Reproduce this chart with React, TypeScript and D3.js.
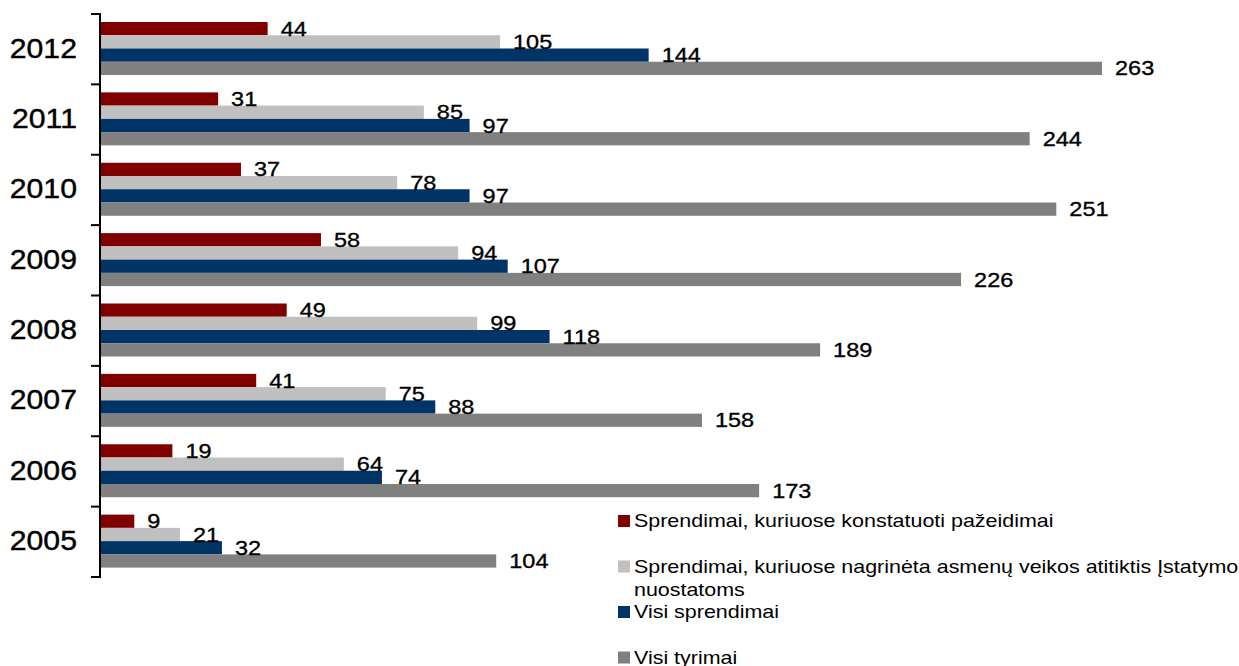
import React from "react";
import * as d3 from "d3";

const years = ["2012", "2011", "2010", "2009", "2008", "2007", "2006", "2005"];
const seriesNames = [
  "Sprendimai, kuriuose konstatuoti pažeidimai",
  "Sprendimai, kuriuose nagrinėta asmenų veikos atitiktis Įstatymo\nnuostatoms",
  "Visi sprendimai",
  "Visi tyrimai",
];
const seriesColors = ["#800000", "#C0C0C0", "#003366", "#808080"];
const violations = [44, 31, 37, 58, 49, 41, 19, 9];
const compliance = [105, 85, 78, 94, 99, 75, 64, 21];
const allDecisions = [144, 97, 97, 107, 118, 88, 74, 32];
const allInvestigations = [263, 244, 251, 226, 189, 158, 173, 104];
const seriesValues = [violations, compliance, allDecisions, allInvestigations];

const W = 1239;
const H = 666;
const FONT = "'Liberation Sans', Arial, sans-serif";
const SX = 1.12;
const LSX = 1.16;

export default function App() {
  const y = d3.scaleBand<string>().domain(years).range([14, 577]).padding(0);
  const inner = d3
    .scaleBand<number>()
    .domain(d3.range(seriesValues.length))
    .range([8, 61])
    .padding(0);
  const x = d3.scaleLinear().domain([0, 300]).range([100, 100 + 300 * 3.81]);
  const axisX = x(0);
  const ticks = years.map((yr) => y(yr) as number).concat([y.range()[1]]);

  const legendX = 618;
  const legendY = [515, 560.5, 606, 651.5];

  return (
    <svg
      width={W}
      height={H}
      style={{ position: "absolute", left: 0, top: 0, background: "#fff" }}
      fontFamily={FONT}
    >
      <rect width={W} height={H} fill="#fff" />
      {years.map((yr, i) => (
        <g key={yr}>
          {seriesValues.map((vals, s) => (
            <rect
              key={s}
              x={axisX}
              y={(y(yr) as number) + (inner(s) as number)}
              width={x(vals[i]) - axisX}
              height={inner.bandwidth()}
              fill={seriesColors[s]}
            />
          ))}
        </g>
      ))}
      {years.map((yr, i) => (
        <g key={"l" + yr}>
          {seriesValues.map((vals, s) => {
            const tx = x(vals[i]) + 13;
            const ty = (y(yr) as number) + (inner(s) as number) + inner.bandwidth() / 2;
            return (
              <text
                key={s}
                transform={`translate(${tx},${ty}) scale(${SX},1)`}
                dominantBaseline="central"
                fontSize={21}
                fill="#000"
                stroke="#000"
                strokeWidth={0.35}
              >
                {vals[i]}
              </text>
            );
          })}
          <text
            transform={`translate(77,${(y(yr) as number) + y.bandwidth() / 2 - 1}) scale(${SX},1)`}
            textAnchor="end"
            dominantBaseline="central"
            fontSize={27}
            fill="#000"
            stroke="#000"
            strokeWidth={0.4}
          >
            {yr}
          </text>
        </g>
      ))}
      <line x1={axisX} x2={axisX} y1={ticks[0] - 1} y2={ticks[ticks.length - 1] + 1} stroke="#000" strokeWidth={2} />
      {ticks.map((t, i) => (
        <line key={i} x1={91} x2={axisX} y1={t} y2={t} stroke="#000" strokeWidth={2} />
      ))}
      {seriesNames.map((name, s) => (
        <g key={name}>
          <rect x={legendX} y={legendY[s]} width={12} height={12} fill={seriesColors[s]} />
          {name.split("\n").map((line, li) => (
            <text
              key={li}
              transform={`translate(${legendX + 16},${legendY[s] + 12 + li * 23}) scale(${LSX},1)`}
              fontSize={18.5}
              fill="#000"
            >
              {line}
            </text>
          ))}
        </g>
      ))}
    </svg>
  );
}
